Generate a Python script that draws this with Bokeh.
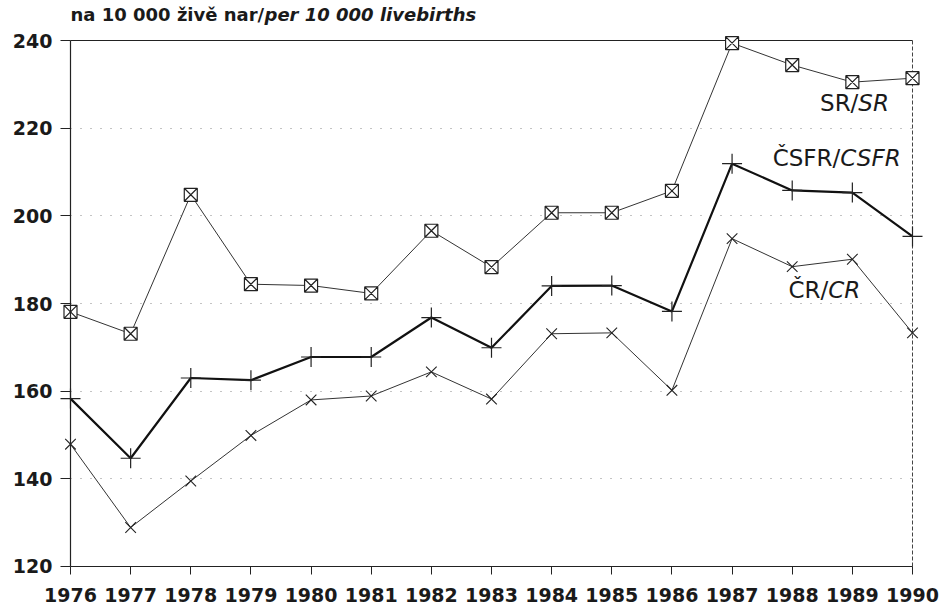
from bokeh.plotting import figure
from bokeh.models import Range1d, FixedTicker, Label, ColumnDataSource
from bokeh.embed import file_html
from bokeh.resources import INLINE

years = list(range(1976, 1991))
sr = [178.1, 173.1, 204.8, 184.4, 184.1, 182.3, 196.6, 188.3, 200.7, 200.7, 205.7, 239.4, 234.4, 230.5, 231.4]
csfr = [158.3, 144.7, 163.0, 162.5, 167.8, 167.8, 176.8, 169.9, 184.0, 184.1, 178.2, 211.9, 205.8, 205.3, 195.3]
cr = [147.9, 128.9, 139.5, 149.9, 158.0, 158.9, 164.4, 158.2, 173.1, 173.3, 160.2, 194.8, 188.4, 190.1, 173.3]
y_ticks = [120, 140, 160, 180, 200, 220, 240]
grid_ticks = [140, 160, 180, 200, 220]

W, H = 940, 606
# frame spans the whole canvas; axes are pinned at 1976 / 120 so markers are not clipped
X0, X1 = 1976 - 70 / 60.143, 1990 + 28 / 60.143
Y0, Y1 = 120 - 40 / 4.3833, 240 + 40 / 4.3833
p = figure(width=W, height=H, output_backend="svg", toolbar_location=None,
           x_range=Range1d(X0, X1), y_range=Range1d(Y0, Y1),
           min_border_left=0, min_border_right=0, min_border_top=0, min_border_bottom=0)
p.title.visible = False
p.outline_line_color = None
p.background_fill_color = "white"
p.border_fill_color = "white"

for ax in (p.xaxis[0], p.yaxis[0]):
    ax.axis_line_color = "#222"
    ax.axis_line_width = 1.2
    ax.major_tick_line_color = "#222"
    ax.minor_tick_line_color = None
    ax.major_tick_in = 0
    ax.major_label_text_font = "DejaVu Sans"
    ax.major_label_text_font_style = "bold"
    ax.major_label_text_font_size = "19px"
    ax.major_label_text_color = "#1a1a1a"
xa, ya = p.xaxis[0], p.yaxis[0]
xa.ticker = FixedTicker(ticks=years)
xa.fixed_location = y_ticks[0]
xa.bounds = (years[0], years[-1])
xa.major_tick_out = 8
xa.major_label_standoff = 14
ya.ticker = FixedTicker(ticks=y_ticks)
ya.fixed_location = years[0]
ya.bounds = (y_ticks[0], y_ticks[-1])
ya.major_tick_out = 10
ya.major_label_standoff = 8

p.xgrid.visible = False
g = p.ygrid[0]
g.ticker = FixedTicker(ticks=grid_ticks)
g.cross_bounds = (years[0], years[-1])
g.grid_line_color = "#888"
g.grid_line_dash = "1 9"
g.grid_line_width = 1

# frame top (solid) and right (dashed) borders
p.segment(x0=[years[0]], y0=[y_ticks[-1]], x1=[years[-1]], y1=[y_ticks[-1]],
          line_color="#222", line_width=1.2)
p.segment(x0=[years[-1]], y0=[y_ticks[0]], x1=[years[-1]], y1=[y_ticks[-1]],
          line_color="#444", line_width=1, line_dash="4 2")

src = ColumnDataSource(dict(year=years, sr=sr, csfr=csfr, cr=cr))

p.line("year", "sr", source=src, line_color="#333", line_width=1)
p.scatter("year", "sr", source=src, marker="square_x", size=13, line_color="#222",
          fill_color="white", line_width=1.2)

p.line("year", "csfr", source=src, line_color="#111", line_width=2.2)
p.scatter("year", "csfr", source=src, marker="cross", size=20, line_color="#222", line_width=1.2)

p.line("year", "cr", source=src, line_color="#333", line_width=1)
p.scatter("year", "cr", source=src, marker="x", size=15, line_color="#222", line_width=1.1)

# unit caption above the frame
title_font = "DejaVu Sans"
p.add_layout(Label(x=years[0], y=246.0, text="na 10 000 živě nar/",
                   text_align="left", text_baseline="alphabetic", text_font=title_font,
                   text_font_style="bold", text_font_size="18px", text_color="#1a1a1a"))
p.add_layout(Label(x=years[0] + 194 / 60.143, y=246.0, text="per 10 000 livebirths",
                   text_align="left", text_baseline="alphabetic", text_font=title_font,
                   text_font_style="bold italic", text_font_size="18px", text_color="#1a1a1a"))

lab_font = "DejaVu Sans"
def series_label(x, y, a, b):
    p.add_layout(Label(x=x, y=y, text=a, text_align="right", text_baseline="alphabetic",
                       text_font=lab_font, text_font_size="23px", text_color="#1a1a1a"))
    p.add_layout(Label(x=x, y=y, text=b, text_align="left", text_baseline="alphabetic",
                       text_font=lab_font, text_font_style="italic", text_font_size="23px",
                       text_color="#1a1a1a"))

series_label(1989.10, 225.8, "SR/", "SR")
series_label(1988.80, 213.1, "ČSFR/", "CSFR")
series_label(1988.60, 183.0, "ČR/", "CR")

open("out.html", "w").write(file_html(p, INLINE))
